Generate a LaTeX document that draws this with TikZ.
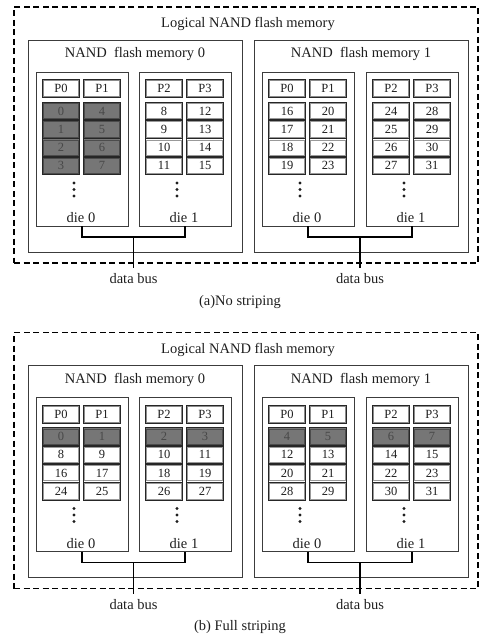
\documentclass[tikz,border=0pt]{standalone}
\usepackage{fontspec}
\setmainfont{Liberation Serif}
\usetikzlibrary{calc}
\definecolor{shade}{RGB}{118,118,118}
\definecolor{shadetext}{RGB}{72,72,72}
\definecolor{ink}{RGB}{30,30,30}
\definecolor{frame}{RGB}{60,60,60}
\tikzset{
 lbl/.style={font=\fontsize{14.5}{16}\selectfont, text=ink, inner sep=0pt},
 cellbase/.style={minimum width=37.5pt, minimum height=17.6pt, inner sep=0pt, draw=black!85, line width=0.8pt, font=\fontsize{12.5}{14}\selectfont},
 cellin/.style={line width=0.6pt},
 diebox/.style={draw=frame, line width=0.9pt, minimum width=92pt, minimum height=154pt, inner sep=0pt, outer sep=0pt},
 membox/.style={draw=frame, line width=0.9pt, inner sep=0pt, outer sep=0pt, minimum width=214pt, minimum height=212pt},
 outerbox/.style={draw=black, line width=1.8pt, dash pattern=on 6pt off 3.5pt, inner sep=0pt, outer sep=0pt},
 bus/.style={draw=black, line width=1.8pt},
}
% inner ridge line of a cell
\newcommand\ridge[2]{\draw[cellin, #2] ($(#1.north west)+(1.6,1.6)$) rectangle ($(#1.south east)+(-1.6,-1.6)$);}
% #1 name, #2 x left, #3/#4 column labels, #5/#6 page lists, #7 shaded rows, #8 die label
\newcommand\dieblk[8]{%
 \node[diebox, anchor=north west] (#1) at (#2,72) {};
 \node[cellbase, fill=white, text=ink, minimum height=18pt] (#1-hA) at ({#2+25},88.5) {#3};
 \ridge{#1-hA}{black!45}
 \node[cellbase, fill=white, text=ink, minimum height=18pt] (#1-hB) at ({#2+66},88.5) {#4};
 \ridge{#1-hB}{black!45}
 \foreach \v [count=\i from 0] in {#5} {%
   \ifnum\i<#7\relax\def\cf{shade}\def\ct{shadetext}\def\cd{black!70}\else\def\cf{white}\def\ct{ink}\def\cd{black!40}\fi
   \node[cellbase, fill=\cf, text=\ct] (#1-A\i) at ({#2+25},{111.1+18.25*\i}) {\v};
   \ridge{#1-A\i}{\cd}
 }
 \foreach \v [count=\i from 0] in {#6} {%
   \ifnum\i<#7\relax\def\cf{shade}\def\ct{shadetext}\def\cd{black!70}\else\def\cf{white}\def\ct{ink}\def\cd{black!40}\fi
   \node[cellbase, fill=\cf, text=\ct] (#1-B\i) at ({#2+66},{111.1+18.25*\i}) {\v};
   \ridge{#1-B\i}{\cd}
 }
 \foreach \k in {0,1,2} \fill[ink] ({#2+38},{183+6.5*\k}) circle (1.6pt);
 \node[lbl] (#1-lab) at ({#2+45},218) {#8};
}
\newcommand\panelframe[1]{%
 \node[outerbox, minimum width=464pt, minimum height=256pt, anchor=north west] (#1-log) at (14,7) {};
 \node[lbl] (#1-logt) at (248,24) {Logical NAND\ flash memory};
 \node[membox, anchor=north west] (#1-m0) at (28,40) {};
 \node[lbl] (#1-m0t) at (135,54) {NAND\ \ flash memory 0};
 \node[membox, anchor=north west] (#1-m1) at (254,40) {};
 \node[lbl] (#1-m1t) at (361,54) {NAND\ \ flash memory 1};
}
\newcommand\panelbus[2]{%
 \foreach \m in {0,1} {%
  \draw[bus] (#1-m\m-d0.south) -- ++(0,11) -| (#1-m\m-d1.south);
  \coordinate (#1-m\m-j) at ($(#1-m\m-d0.south)!0.5!(#1-m\m-d1.south)+(0,11)$);
  \coordinate (#1-m\m-e) at ($(#1-m\m-j)+(0,31)$);
  \draw[bus] (#1-m\m-j) -- (#1-m\m-e);
  \node[lbl] (#1-m\m-db) at ($(#1-m\m-e)+(0,11)$) {data bus};
 }
 \node[lbl] (#1-cap) at (240,302) {#2};
}
\begin{document}
\begin{tikzpicture}[x=1pt,y=-1pt]
\useasboundingbox (0,0) rectangle (480,636);
% (a) No striping
\panelframe{a}
\dieblk{a-m0-d0}{36}{P0}{P1}{0,1,2,3}{4,5,6,7}{4}{die 0}
\dieblk{a-m0-d1}{139}{P2}{P3}{8,9,10,11}{12,13,14,15}{0}{die 1}
\dieblk{a-m1-d0}{262}{P0}{P1}{16,17,18,19}{20,21,22,23}{0}{die 0}
\dieblk{a-m1-d1}{366}{P2}{P3}{24,25,26,27}{28,29,30,31}{0}{die 1}
\panelbus{a}{(a)No striping}
% (b) Full striping
\begin{scope}[shift={(0,325.5)}]
\panelframe{b}
\dieblk{b-m0-d0}{36}{P0}{P1}{0,8,16,24}{1,9,17,25}{1}{die 0}
\dieblk{b-m0-d1}{139}{P2}{P3}{2,10,18,26}{3,11,19,27}{1}{die 1}
\dieblk{b-m1-d0}{262}{P0}{P1}{4,12,20,28}{5,13,21,29}{1}{die 0}
\dieblk{b-m1-d1}{366}{P2}{P3}{6,14,22,30}{7,15,23,31}{1}{die 1}
\panelbus{b}{(b) Full striping}
\end{scope}
\end{tikzpicture}
\end{document}
